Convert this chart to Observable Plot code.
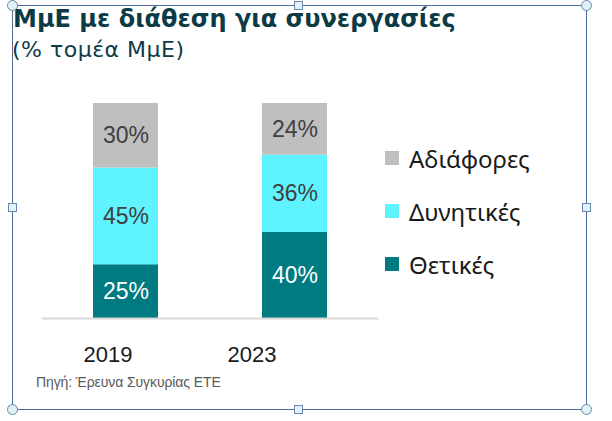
<!DOCTYPE html>
<html><head><meta charset="utf-8">
<script src="https://cdn.jsdelivr.net/npm/d3@7"></script>
<script src="https://cdn.jsdelivr.net/npm/@observablehq/plot@0.6"></script>
<style>
body{margin:0;background:#fff;}
#wrap{position:relative;width:612px;height:421px;overflow:hidden;background:#fff;}
#frame{position:absolute;left:12px;top:5px;width:573px;height:403px;border:1px solid #4d6e9e;}
.h{position:absolute;width:9px;height:9px;border:1px solid #6b86ad;background:#dff2f8;box-sizing:border-box;}
.c{border-radius:50%;width:11px;height:11px;}
#title{position:absolute;left:13px;top:5px;font-family:"DejaVu Sans",sans-serif;font-weight:700;font-size:24px;color:#0c3b46;white-space:nowrap;letter-spacing:0px;}
#sub{position:absolute;left:12px;top:37px;font-family:"DejaVu Sans",sans-serif;font-size:22px;color:#0c3b46;white-space:nowrap;letter-spacing:0.5px;}
#plot{position:absolute;left:0;top:80px;}
#legend{position:absolute;left:385px;top:144px;font-family:"Noto Sans",sans-serif;font-size:24px;color:#1a1a1a;}
.li{display:flex;align-items:center;height:28px;margin-bottom:25px;white-space:nowrap;}
.sw{width:14px;height:14px;margin-right:10px;}
#cap{position:absolute;left:36px;top:374px;font-family:"Liberation Sans",Arial,sans-serif;font-size:14px;color:#595959;white-space:nowrap;letter-spacing:-0.1px;}
</style></head>
<body>
<div id="wrap">
  <div id="title"></div>
  <div id="sub"></div>
  <div id="plot"></div>
  <div id="legend"></div>
  <div id="cap"></div>
  <div id="frame"></div>
</div>
<script>
const title = "ΜμΕ με διάθεση για συνεργασίες";
const subtitle = "(% τομέα ΜμΕ)";
const caption = "Πηγή: Έρευνα Συγκυρίας ΕΤΕ";
const years = ["2019", "2023"];
const seriesNames = ["Θετικές", "Δυνητικές", "Αδιάφορες"];
const colors = ["#007b82", "#5ff2ff", "#bfbfbf"];
const thetikes = [25, 40];
const dynitikes = [45, 36];
const adiafores = [30, 24];

const seriesValues = [thetikes, dynitikes, adiafores];
const data = [];
seriesNames.forEach((s, i) => years.forEach((y, j) => data.push({year: y, series: s, value: seriesValues[i][j]})));

document.getElementById("title").textContent = title;
document.getElementById("sub").textContent = subtitle;
document.getElementById("cap").textContent = caption;

const font = "Liberation Sans, Arial, sans-serif";
const chart = Plot.plot({
  width: 612,
  height: 300,
  marginTop: 23,
  marginBottom: 62,
  marginLeft: 42,
  marginRight: 234,
  style: {fontFamily: font, background: "transparent"},
  x: {domain: years, paddingInner: 0.615, paddingOuter: 0.3},
  y: {domain: [0, 100], axis: null},
  color: {domain: seriesNames, range: colors},
  marks: [
    Plot.barY(data, Plot.stackY({x: "year", y: "value", fill: "series"})),
    Plot.ruleY([0], {stroke: "#d9d9d9", strokeWidth: 2}),
    Plot.text(data, Plot.stackY({x: "year", y: "value", z: "series",
      text: d => d.series === seriesNames[0] ? d.value + "%" : "",
      fill: "white", fontSize: 23, fontFamily: font})),
    Plot.text(data, Plot.stackY({x: "year", y: "value", z: "series",
      text: d => d.series === seriesNames[0] ? "" : d.value + "%",
      fill: "#404040", fontSize: 23, fontFamily: font})),
    Plot.axisX([years[0]], {tickSize: 0, tickPadding: 28, fontSize: 22, fill: "#1a1a1a", dx: -18, label: null, fontFamily: font}),
    Plot.axisX([years[1]], {tickSize: 0, tickPadding: 28, fontSize: 22, fill: "#1a1a1a", dx: -43, label: null, fontFamily: font})
  ]
});
document.getElementById("plot").appendChild(chart);

const legend = document.getElementById("legend");
[2, 1, 0].forEach(i => {
  const row = document.createElement("div");
  row.className = "li";
  const sw = document.createElement("div");
  sw.className = "sw";
  sw.style.background = colors[i];
  const t = document.createElement("span");
  t.textContent = seriesNames[i];
  row.appendChild(sw); row.appendChild(t);
  legend.appendChild(row);
});

// selection handles of the frame
const wrap = document.getElementById("wrap");
[[12,5,1],[298,5,0],[586,5,1],[12,207,0],[586,207,0],[12,409,1],[298,409,0],[586,409,1]].forEach(([x,y,c]) => {
  const h = document.createElement("div");
  h.className = "h" + (c ? " c" : "");
  const s = c ? 11 : 9;
  h.style.left = (x - s/2 + 0.5) + "px";
  h.style.top = (y - s/2 + 0.5) + "px";
  wrap.appendChild(h);
});
</script>
</body></html>
